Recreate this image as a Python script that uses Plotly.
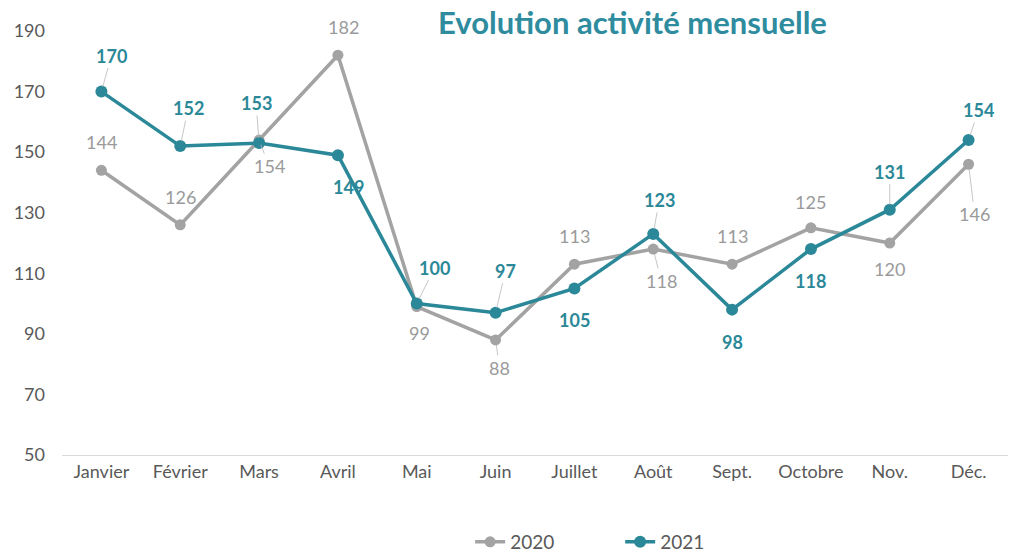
import plotly.graph_objects as go

months = ["Janvier", "Février", "Mars", "Avril", "Mai", "Juin", "Juillet",
          "Août", "Sept.", "Octobre", "Nov.", "Déc."]
v2020 = [144, 126, 154, 182, 99, 88, 113, 118, 113, 125, 120, 146]
v2021 = [170, 152, 153, 149, 100, 97, 105, 123, 98, 118, 131, 154]
y_ticks = [50, 70, 90, 110, 130, 150, 170, 190]

# label offsets (pixels) and whether a leader line is shown
off2020 = [(0, -28), (0, -28), (10, 26), (6, -28), (3, 26), (4, 28), (0, -28),
           (8, 32), (0, -28), (0, -26), (0, 26), (6, 50)]
lead2020 = [False, False, True, False, False, True, False, True, False, False, False, True]
off2021 = [(10, -36), (8, -38), (-3, -40), (11, 32), (18, -36), (10, -42), (0, 32),
           (6, -34), (0, 32), (0, 32), (0, -38), (10, -30)]
lead2021 = [True, True, True, False, True, True, False, True, False, False, True, True]

GRAY = "#a3a3a3"
TEAL = "#2b8898"
FONT = "Lato"

fig = go.Figure()
fig.add_trace(go.Scatter(x=months, y=v2020, name="2020", mode="lines+markers",
                         line=dict(color=GRAY, width=3.5),
                         marker=dict(size=11, color=GRAY)))
fig.add_trace(go.Scatter(x=months, y=v2021, name="2021", mode="lines+markers",
                         line=dict(color=TEAL, width=3.5),
                         marker=dict(size=12, color=TEAL)))

for m, v, (dx, dy), lead in zip(months, v2020, off2020, lead2020):
    fig.add_annotation(x=m, y=v, text=str(v), ax=dx, ay=dy, showarrow=True,
                       arrowhead=0, arrowwidth=0.8, standoff=5,
                       arrowcolor="#b8b8b8" if lead else "rgba(0,0,0,0)",
                       font=dict(family=FONT, size=18, color="#9a9a9a"))
for m, v, (dx, dy), lead in zip(months, v2021, off2021, lead2021):
    fig.add_annotation(x=m, y=v, text="<b>%d</b>" % v, ax=dx, ay=dy, showarrow=True,
                       arrowhead=0, arrowwidth=0.8, standoff=5,
                       arrowcolor="#b8b8b8" if lead else "rgba(0,0,0,0)",
                       font=dict(family=FONT, size=18, color=TEAL))

fig.add_annotation(text="<b>Evolution activité mensuelle</b>", xref="paper", yref="paper",
                   x=0.603, y=1.0, xanchor="center", yanchor="middle", yshift=9,
                   showarrow=False, font=dict(family=FONT, size=31, color="#2e8c9e"))

fig.update_layout(
    width=1011, height=553,
    margin=dict(l=62, r=3, t=31, b=98, autoexpand=False),
    paper_bgcolor="white", plot_bgcolor="white",
    font=dict(family=FONT, color="#595959", size=18),
    showlegend=True,
    legend=dict(orientation="h", x=0.59, xanchor="center", y=-0.205, yanchor="middle",
                font=dict(family=FONT, size=19, color="#595959"), entrywidth=105),
)
fig.update_xaxes(range=[-0.5, len(months) - 0.5], showgrid=False, showline=True,
                 linecolor="#d9d9d9", linewidth=1,
                 ticks="", tickfont=dict(size=18, color="#595959"), fixedrange=True,
                 automargin=False)
fig.update_yaxes(range=[50, 190], tickvals=y_ticks, showgrid=False, zeroline=False,
                 showline=False, ticks="", tickfont=dict(size=18, color="#595959"),
                 ticklabelstandoff=16, automargin=False, fixedrange=True)

fig.write_html("out.html", config={"displayModeBar": False},
               post_script="document.body.style.margin='0';document.body.style.overflow='hidden';")
